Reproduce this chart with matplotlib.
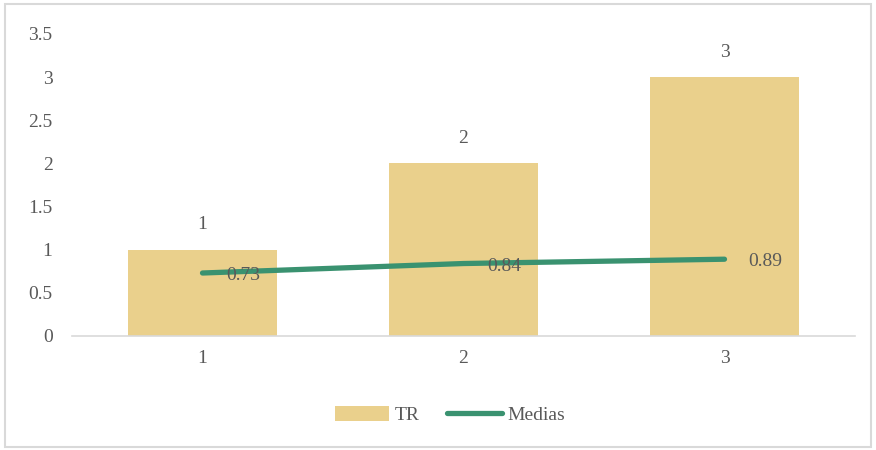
import matplotlib.pyplot as plt
from matplotlib.patches import Rectangle

categories = ['1', '2', '3']
tr_values = [1, 2, 3]
medias_values = [0.73, 0.84, 0.89]
yticks = [0, 0.5, 1, 1.5, 2, 2.5, 3, 3.5]

plt.rcParams['font.family'] = ['Liberation Serif', 'DejaVu Serif']
text_color = '#595959'
bar_color = '#EAD08C'
line_color = '#3A9270'
fs = 14

fig = plt.figure(figsize=(8.76, 4.5), dpi=100)
fig.patches.append(Rectangle((0.006, 0.006), 0.988, 0.985, transform=fig.transFigure,
                             fill=False, edgecolor='#D9D9D9', linewidth=1.5))
ax = fig.add_axes([72 / 876, 1 - 336 / 450, (855 - 72) / 876, 302 / 450])

x = range(len(categories))
ax.bar(x, tr_values, width=0.57, color=bar_color, label='TR', zorder=2)
ax.plot(x, medias_values, color=line_color, linewidth=3.8, solid_capstyle='round',
        label='Medias', zorder=3)

for i, v in enumerate(tr_values):
    ax.annotate(str(v), (i, v), xytext=(0, 18), textcoords='offset points',
                ha='center', va='center', fontsize=fs, color=text_color)
for i, v in enumerate(medias_values):
    ax.annotate(f'{v:.2f}', (i, v), xytext=(17, -2), textcoords='offset points',
                ha='left', va='center', fontsize=fs, color=text_color, zorder=4)

ax.set_xlim(-0.5, 2.5)
ax.set_ylim(0, 3.5)
ax.set_xticks(list(x))
ax.set_xticklabels(categories)
ax.set_yticks(yticks)
ax.set_yticklabels([f'{t:g}' for t in yticks])
ax.tick_params(length=0, labelsize=fs, labelcolor=text_color)
ax.tick_params(axis='y', pad=14)
ax.tick_params(axis='x', pad=10)
for s in ['top', 'right', 'left']:
    ax.spines[s].set_visible(False)
ax.spines['bottom'].set_color('#D9D9D9')
ax.spines['bottom'].set_linewidth(1.2)

handles, labels = ax.get_legend_handles_labels()
order = [labels.index('TR'), labels.index('Medias')]
leg = fig.legend([handles[i] for i in order], [labels[i] for i in order],
                 loc='center', bbox_to_anchor=(450 / 876, 1 - 415 / 450), ncol=2,
                 frameon=False, fontsize=fs, handlelength=2.8, handleheight=0.8,
                 columnspacing=1.4, handletextpad=0.3)
for t in leg.get_texts():
    t.set_color(text_color)

fig.savefig('out.png', dpi=100)
